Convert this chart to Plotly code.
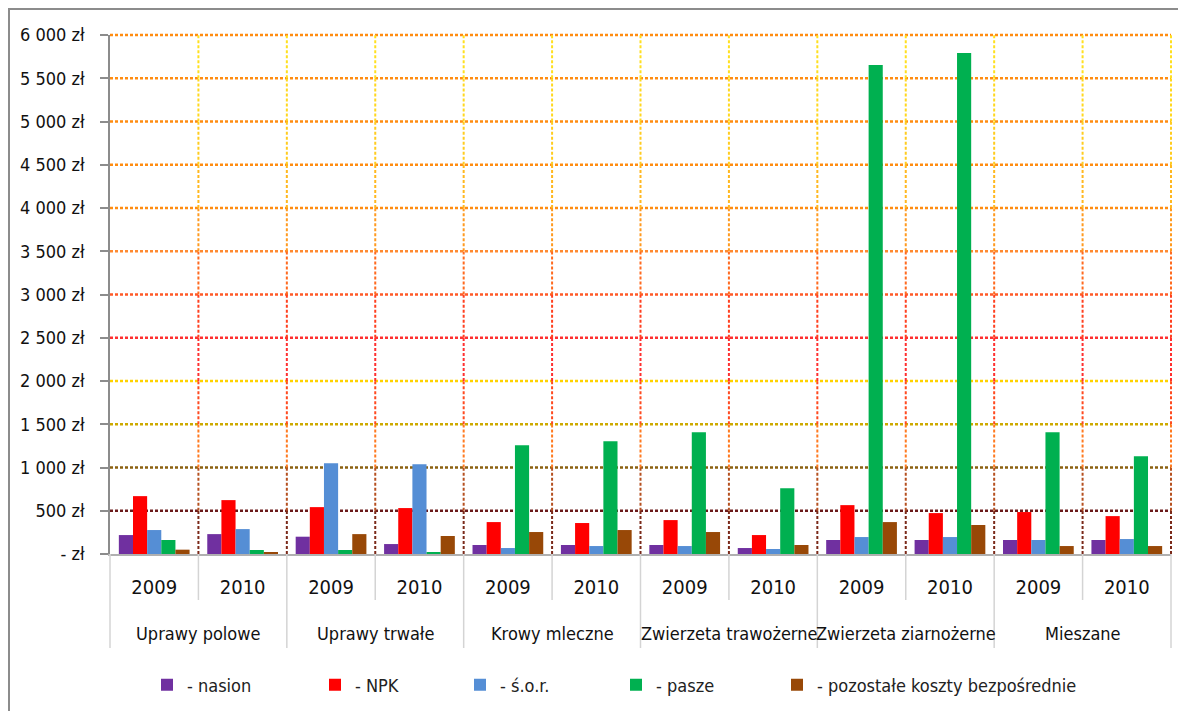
import plotly.graph_objects as go

groups = ["Uprawy polowe", "Uprawy trwałe", "Krowy mleczne",
          "Zwierzeta trawożerne", "Zwierzeta ziarnożerne", "Mieszane"]
years = ["2009", "2010"]

nasion = [219, 230, 200, 115, 104, 104, 104, 69, 162, 162, 162, 162]
npk = [669, 623, 542, 531, 369, 358, 392, 219, 565, 473, 485, 438]
sor = [277, 288, 1050, 1038, 69, 92, 92, 58, 196, 196, 162, 173]
pasze = [162, 46, 46, 12, 1257, 1303, 1407, 761, 5654, 5792, 1407, 1130]
pozostale = [50, 12, 230, 208, 254, 277, 254, 104, 369, 335, 92, 92]

series_names = ["- nasion", "- NPK", "- ś.o.r.", "- pasze",
                "- pozostałe koszty bezpośrednie"]
series_values = [nasion, npk, sor, pasze, pozostale]
series_colors = ["#7030A0", "#FF0000", "#558ED5", "#00B050", "#984807"]

y_tickvals = [0, 500, 1000, 1500, 2000, 2500, 3000, 3500, 4000, 4500, 5000, 5500, 6000]
y_ticktext = ["- zł", "500 zł", "1 000 zł", "1 500 zł", "2 000 zł", "2 500 zł",
              "3 000 zł", "3 500 zł", "4 000 zł", "4 500 zł", "5 000 zł",
              "5 500 zł", "6 000 zł"]
Y_MAX = 6000

FONT = "DejaVu Sans Condensed, Lato, Liberation Sans, sans-serif"

# unique category keys (group + year); ticks show the year only
x_keys = [f"{g} {y}" for g in groups for y in years]
x_year_text = [y for _ in groups for y in years]

fig = go.Figure()
legend_ids = ["legend2", "legend3", "legend4", "legend5", "legend6"]
for name, vals, col, lid in zip(series_names, series_values, series_colors, legend_ids):
    fig.add_trace(go.Bar(
        x=x_keys, y=vals, name=name,
        marker=dict(color=col, line=dict(width=0)),
        legend=lid,
    ))

# geometry: page has 8px body margin, compensate so plot area = [110,1171] x [35,554]
W, H = 1178, 703
ML, MR, MT, MB = 102, 15, 27, 157
PW, PH = W - ML - MR, H - MT - MB

def px_x(px):
    return (px - 110) / PW

def px_y(py):
    return (554 - py) / PH

shapes = []
hcolors = {500: "#6B1A1A", 1000: "#8B6010", 1500: "#CDAA00", 2000: "#FFD200",
           2500: "#FF3030", 3000: "#FF5A28", 3500: "#FF8A30", 4000: "#FF8C10",
           4500: "#FF8C10", 5000: "#FF8C10", 5500: "#FF8C10", 6000: "#FF8C10"}
for v in y_tickvals[1:]:
    shapes.append(dict(type="line", xref="paper", yref="paper", x0=0, x1=1,
                       y0=v / Y_MAX, y1=v / Y_MAX,
                       line=dict(color=hcolors[v], width=2.5, dash="3px,2px"),
                       layer="below"))
vcolors = ["#7B2A1A", "#B55020", "#FF7A20", "#FF4A20", "#FF3030", "#FF4020",
           "#FF6A20", "#FF9A20", "#FFB820", "#FFCC20", "#FFD820", "#FFE020"]
ncat = len(x_keys)
for k in range(1, ncat + 1):
    for i, c in enumerate(vcolors):
        shapes.append(dict(type="line", xref="paper", yref="paper", x0=k / ncat, x1=k / ncat,
                           y0=y_tickvals[i] / Y_MAX, y1=y_tickvals[i + 1] / Y_MAX,
                           line=dict(color=c, width=2, dash="3px,2px"), layer="below"))
for k in range(0, ncat + 1):
    y_end = px_y(648) if k % 2 == 0 else px_y(600)
    shapes.append(dict(type="line", xref="paper", yref="paper", x0=k / ncat, x1=k / ncat,
                       y0=0, y1=y_end, line=dict(color="#D4D4D4", width=1.5)))
shapes.append(dict(type="line", xref="paper", yref="paper", x0=px_x(8.5), x1=px_x(8.5),
                   y0=px_y(720), y1=px_y(8.5), line=dict(color="#8C8C8C", width=3)))
shapes.append(dict(type="line", xref="paper", yref="paper", x0=px_x(7), x1=px_x(1190),
                   y0=px_y(8.5), y1=px_y(8.5), line=dict(color="#8C8C8C", width=3)))

annotations = []
for i, g in enumerate(groups):
    annotations.append(dict(text=g, xref="paper", yref="paper", x=(2 * i + 1) / ncat,
                            y=px_y(633), xanchor="center", yanchor="middle",
                            showarrow=False, font=dict(family=FONT, size=18, color="#111")))

legend_px = [147, 315, 460, 616, 777]
layout_legends = {}
for lid, lp in zip(legend_ids, legend_px):
    layout_legends[lid] = dict(x=px_x(lp), y=px_y(685), xanchor="left", yanchor="middle",
                               orientation="h", bgcolor="rgba(0,0,0,0)",
                               font=dict(family=FONT, size=18, color="#222"))

fig.update_layout(
    width=W, height=H,
    margin=dict(l=ML, r=MR, t=MT, b=MB, autoexpand=False),
    paper_bgcolor="white", plot_bgcolor="white",
    barmode="group", bargap=0.2, bargroupgap=0,
    font=dict(family=FONT, size=18, color="#111"),
    showlegend=True,
    shapes=shapes,
    annotations=annotations,
    **layout_legends,
)
fig.update_xaxes(
    type="category", tickmode="array", tickvals=x_keys, ticktext=x_year_text,
    showgrid=False, showline=True, linecolor="#B0B0B0",
    linewidth=1.5, ticks="", tickangle=0, automargin=False,
    ticklabelstandoff=14,
    tickfont=dict(family=FONT, size=20, color="#111"),
)
fig.update_yaxes(
    range=[0, Y_MAX], tickvals=y_tickvals, ticktext=y_ticktext, automargin=False,
    showgrid=False, zeroline=False, showline=True, linecolor="#8C8C8C", linewidth=1.5,
    ticks="outside", ticklen=8, tickcolor="#8C8C8C", tickwidth=1.5,
    ticklabelstandoff=12, tickfont=dict(family=FONT, size=18, color="#111"),
)

fig.write_html("out.html")
